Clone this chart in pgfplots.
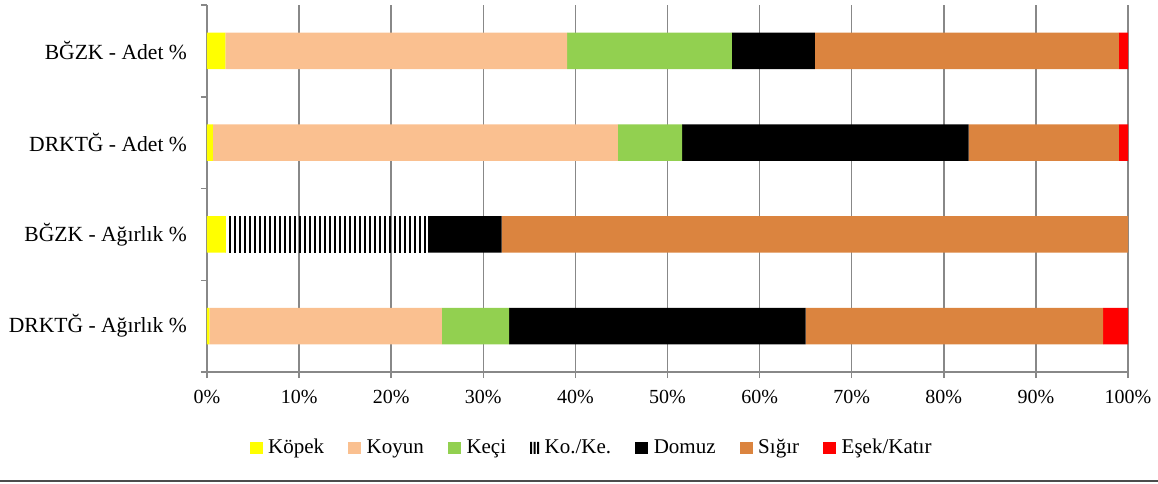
\documentclass[border=0pt]{standalone}
\usepackage{fontspec}
\setmainfont{Liberation Serif}
\usepackage{pgfplots}
\pgfplotsset{compat=1.18}
\usetikzlibrary{patterns.meta}
\definecolor{kopek}{HTML}{FFFF00}
\definecolor{koyun}{HTML}{FAC090}
\definecolor{keci}{HTML}{92D050}
\definecolor{sigir}{HTML}{DB843F}
\definecolor{esek}{HTML}{FF0000}
\definecolor{gridgray}{HTML}{888888}
\begin{document}
\begin{tikzpicture}[x=1pt,y=1pt]
\path[use as bounding box] (-103.5,-55.5) rectangle (475.5,186);
\begin{axis}[
  at={(0,0)}, anchor=south west,
  scale only axis, width=460.5pt, height=183.5pt,
  xbar stacked, bar width=0.4,
  xmin=0, xmax=100, ymin=-0.5, ymax=3.5,
  axis lines*=left,
  axis line style={draw=gridgray, line width=0.75pt},
  /pgf/number format/assume math mode=true,
  xtick={0,10,...,100},
  xticklabel={\pgfmathprintnumber{\tick}\%},
  ytick={-0.5,0.5,1.5,2.5,3.5},
  y tick label as interval,
  yticklabels={DRKTĞ - Ağırlık \%, BĞZK - Ağırlık \%, DRKTĞ - Adet \%, BĞZK - Adet \%},
  tick align=outside, major tick length=3pt,
  tick style={draw=gridgray, line width=0.75pt},
  xmajorgrids, grid style={draw=gridgray, line width=0.75pt},
  xticklabel style={font=\fontsize{10}{12}\selectfont, yshift=-2.5pt},
  yticklabel style={font=\fontsize{10.8}{13}\selectfont, xshift=-3.5pt},
  legend columns=7,
  legend cell align=left,
  legend style={draw=none, at={(0.4186,-0.207)}, anchor=center,
    font=\fontsize{10.5}{12}\selectfont,
    inner sep=0pt,
    /tikz/every odd column/.append style={column sep=0.8pt},
    /tikz/every even column/.append style={column sep=10pt}},
  legend image code/.code={\fill[#1] (0pt,-3pt) rectangle (6.5pt,3pt);},
]
\addplot[fill=kopek, draw=none] coordinates {(2.0,3) (0.65,2) (2.05,1) (0.25,0)};
\addplot[fill=koyun, draw=none] coordinates {(37.1,3) (43.95,2) (0,1) (25.25,0)};
\addplot[fill=keci, draw=none] coordinates {(17.9,3) (7.0,2) (0,1) (7.3,0)};
\addplot[pattern={Lines[angle=90,distance=2.5pt,line width=1.2pt]}, pattern color=black, draw=none,
  legend image code/.code={\fill[black] (0pt,-3pt) rectangle (1pt,3pt) (1.75pt,-3pt) rectangle (2.75pt,3pt) (3.5pt,-3pt) rectangle (4.5pt,3pt);}]
  coordinates {(0,3) (0,2) (21.95,1) (0,0)};
\addplot[fill=black, draw=none] coordinates {(9.0,3) (31.1,2) (8.0,1) (32.2,0)};
\addplot[fill=sigir, draw=none] coordinates {(33.0,3) (16.3,2) (68.0,1) (32.3,0)};
\addplot[fill=esek, draw=none] coordinates {(1.0,3) (1.0,2) (0,1) (2.7,0)};
\legend{Köpek, Koyun, Keçi, Ko./Ke., Domuz, Sığır, Eşek/Katır}
\end{axis}
\draw[line width=0.75pt, draw=black!70] (-103.5,-54.5) -- (475.5,-54.5);
\end{tikzpicture}
\end{document}
